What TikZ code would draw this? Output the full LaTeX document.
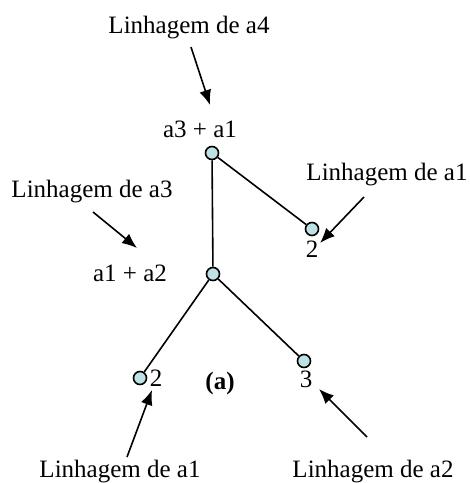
\documentclass[tikz,border=0pt]{standalone}
\usepackage{fontspec}
\setmainfont{Liberation Serif}
\usetikzlibrary{arrows.meta}
\definecolor{dotfill}{RGB}{190,226,228}

\begin{document}
\begin{tikzpicture}[x=0.5pt,y=-0.5pt,
    font=\fontsize{12.5}{15}\selectfont,
    dot/.style={circle,draw,line width=0.8pt,fill=dotfill,minimum size=6.5pt,inner sep=0pt},
    txt/.style={anchor=base,inner sep=0pt},
    pointer/.style={-{Latex[length=7.5pt,width=6pt]},line width=0.8pt}]
      \useasboundingbox (0,0) rectangle (470,483);
      % tree
      \node[dot] at (212,153) (r){};
      \node[dot] at (213,274) (m){};
      \node[dot] at (312,229) (p){};
      \node[dot] at (140,378) (q){};
      \node[dot] at (304,361) (s){};
      \draw[line width=0.8pt] (r) -- (m);
      \draw[line width=0.8pt] (r) -- (p);
      \draw[line width=0.8pt] (m) -- (q);
      \draw[line width=0.8pt] (m) -- (s);
      % labels
      \node[txt] at (200,137) (rl){a3 + a1};
      \node[txt] at (130,281) (ml){a1 + a2};
      \node[txt] at (312,257) (pl){2};
      \node[txt] at (156,386) (ql){2};
      \node[txt] at (306,387) (sl){3};
      \node[txt] at (220,389) (cap){\textbf{(a)}};
      \node[txt] at (189,33) (la4){Linhagem de a4};
      \node[txt] at (92,197) (la3){Linhagem de a3};
      \node[txt] at (387,180) (la1r){Linhagem de a1};
      \node[txt] at (120,477) (la1b){Linhagem de a1};
      \node[txt] at (373,477) (la2){Linhagem de a2};
      % arrows
      \coordinate (t4) at (191,47);  \coordinate (h4) at (210,105);
      \coordinate (t3) at (93,212);  \coordinate (h3) at (137,248);
      \coordinate (t1r) at (364,197); \coordinate (h1r) at (320,243);
      \coordinate (t1b) at (127,457); \coordinate (h1b) at (152,390);
      \coordinate (t2) at (367,437); \coordinate (h2) at (319,389);
      \draw[pointer] (t4) -- (h4);
      \draw[pointer] (t3) -- (h3);
      \draw[pointer] (t1r) -- (h1r);
      \draw[pointer] (t1b) -- (h1b);
      \draw[pointer] (t2) -- (h2);
    \end{tikzpicture}
\end{document}
